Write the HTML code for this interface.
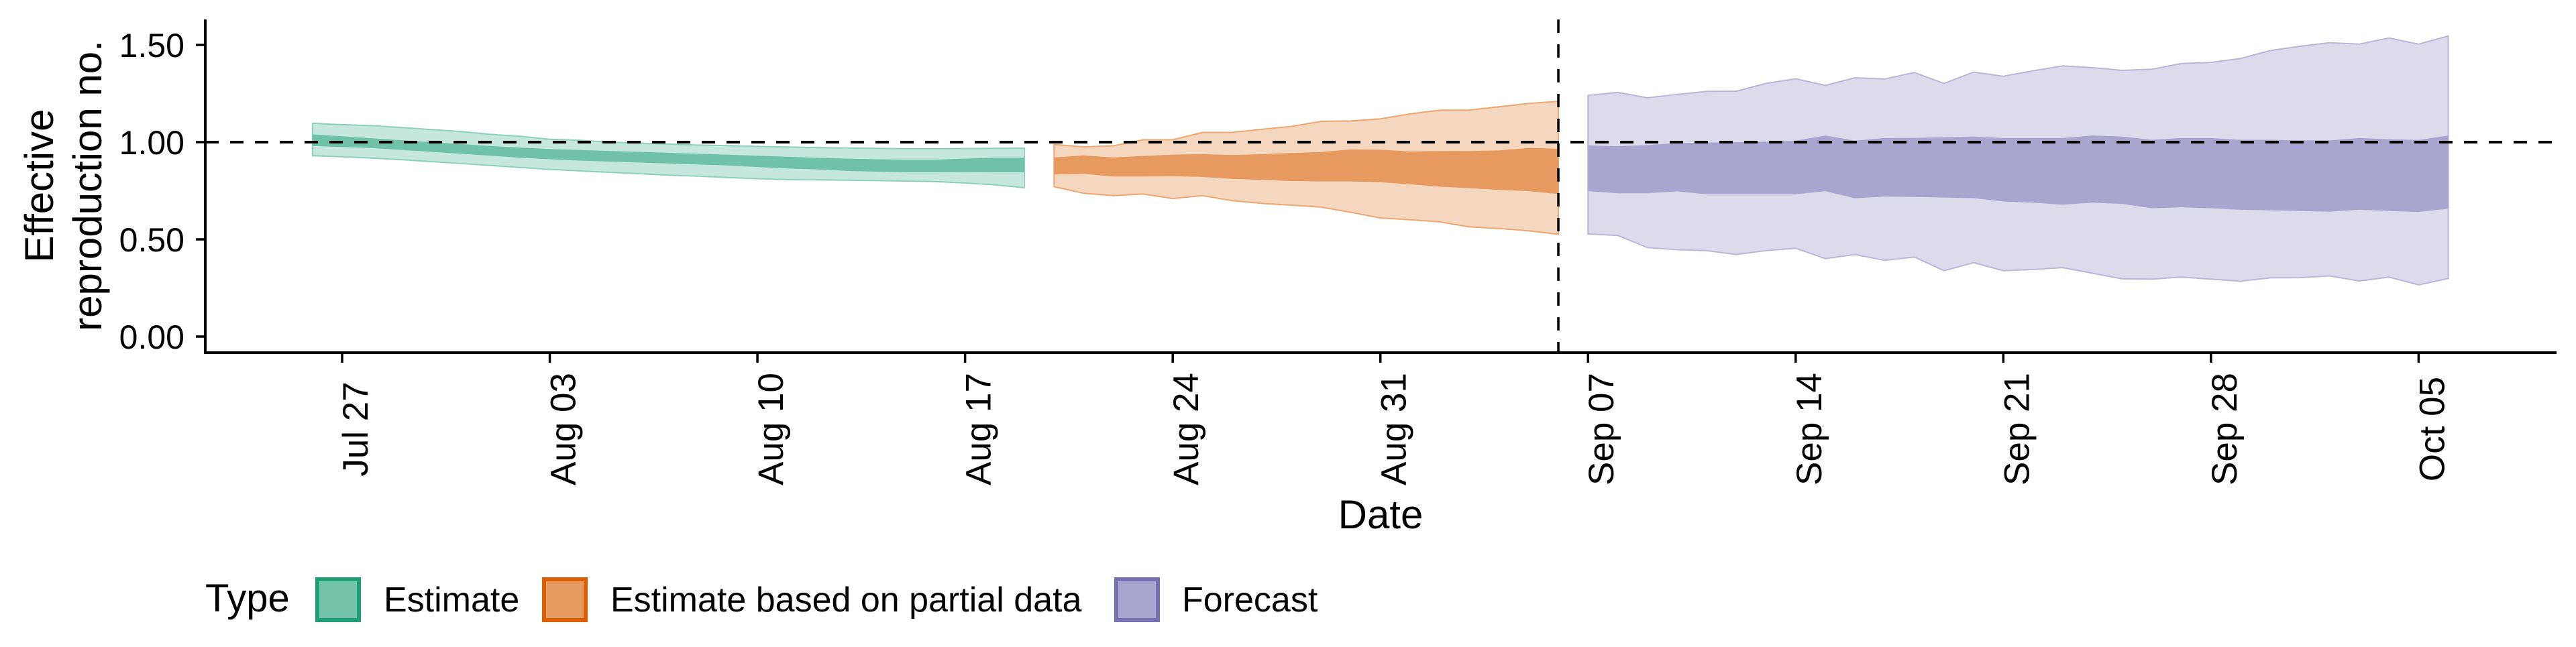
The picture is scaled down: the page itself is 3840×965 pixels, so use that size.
<!DOCTYPE html>
<html><head><meta charset="utf-8"><style>
html,body{margin:0;padding:0;background:#fff;}
svg text{font-family:"Liberation Sans",sans-serif;fill:#000;}
</style></head><body>
<svg id="chart" xmlns="http://www.w3.org/2000/svg" width="3840" height="960" viewBox="0 0 3840 960">
<g id="bands"></g>
<g id="axes"></g>
</svg>
<script>
// day offsets relative to Jul 27
const estStart = -1;
const estUpper90 = [1.097,1.09,1.085,1.075,1.065,1.055,1.04,1.03,1.015,1.01,1.0,0.995,0.99,0.985,0.982,0.978,0.975,0.972,0.97,0.968,0.966,0.966,0.967,0.968,0.969];
const estLower90 = [0.93,0.925,0.918,0.91,0.9,0.89,0.88,0.87,0.86,0.852,0.845,0.838,0.83,0.825,0.818,0.812,0.808,0.806,0.804,0.802,0.80,0.797,0.79,0.78,0.766];
const estUpper50 = [1.04,1.03,1.02,1.01,1.0,0.99,0.98,0.972,0.965,0.96,0.955,0.95,0.945,0.94,0.935,0.93,0.925,0.92,0.915,0.912,0.91,0.91,0.915,0.92,0.92];
const estLower50 = [0.98,0.975,0.97,0.96,0.95,0.94,0.93,0.92,0.912,0.905,0.9,0.895,0.89,0.885,0.88,0.872,0.865,0.86,0.852,0.848,0.845,0.845,0.846,0.845,0.845];

const partStart = 24;
const partUpper90 = [0.988,0.976,0.981,1.012,1.012,1.05,1.05,1.066,1.081,1.107,1.109,1.12,1.145,1.164,1.165,1.182,1.199,1.21];
const partLower90 = [0.771,0.737,0.725,0.733,0.71,0.725,0.699,0.685,0.676,0.666,0.639,0.61,0.601,0.59,0.564,0.556,0.544,0.526];
const partUpper50 = [0.921,0.932,0.921,0.929,0.936,0.938,0.934,0.938,0.944,0.949,0.963,0.961,0.952,0.954,0.954,0.958,0.970,0.966];
const partLower50 = [0.834,0.837,0.823,0.823,0.825,0.821,0.811,0.806,0.8,0.798,0.798,0.794,0.783,0.771,0.763,0.754,0.748,0.733];

const fcStart = 42;
const fcUpper90 = [1.240,1.256,1.228,1.245,1.261,1.262,1.302,1.326,1.292,1.331,1.325,1.358,1.302,1.360,1.339,1.367,1.392,1.383,1.369,1.375,1.404,1.410,1.430,1.471,1.493,1.511,1.504,1.536,1.504,1.546];
const fcLower90 = [0.528,0.520,0.458,0.447,0.442,0.422,0.442,0.454,0.401,0.422,0.392,0.409,0.339,0.380,0.339,0.345,0.355,0.326,0.297,0.295,0.306,0.295,0.285,0.302,0.303,0.312,0.286,0.306,0.266,0.299];
const fcUpper50 = [0.983,0.979,0.985,0.995,0.998,0.999,1.002,1.008,1.034,1.008,1.021,1.022,1.025,1.029,1.021,1.021,1.021,1.034,1.029,1.012,1.021,1.021,1.012,1.012,1.009,1.009,1.021,1.015,1.011,1.034];
const fcLower50 = [0.748,0.737,0.737,0.747,0.732,0.732,0.732,0.732,0.748,0.711,0.720,0.718,0.715,0.712,0.695,0.689,0.678,0.689,0.682,0.660,0.665,0.660,0.652,0.649,0.646,0.642,0.652,0.646,0.641,0.658];

const yTicks = [0, 0.5, 1.0, 1.5];
const yTickLabels = ["0.00","0.50","1.00","1.50"];
const xTickDays = [0,7,14,21,28,35,42,49,56,63,70];
const xTickLabels = ["Jul 27","Aug 03","Aug 10","Aug 17","Aug 24","Aug 31","Sep 07","Sep 14","Sep 21","Sep 28","Oct 05"];
const refLineValue = 1.0;
const forecastDay = 41;

const NS = "http://www.w3.org/2000/svg";
const L = 306, R = 3811, T = 29, B = 526;
function xs(d){ return 510 + d * 44.22; }
function ys(v){ return 502 - v * 290; }
function mk(tag, attrs, parent){ const e = document.createElementNS(NS, tag); for (const k in attrs) e.setAttribute(k, attrs[k]); parent.appendChild(e); return e; }
const bands = document.getElementById('bands');
const axes = document.getElementById('axes');

function ribbon(start, up, lo, fill, stroke, name){
  let pts = [];
  for (let i = 0; i < up.length; i++) pts.push(xs(start + i).toFixed(1) + "," + ys(up[i]).toFixed(1));
  for (let i = lo.length - 1; i >= 0; i--) pts.push(xs(start + i).toFixed(1) + "," + ys(lo[i]).toFixed(1));
  const p = mk('polygon', {points: pts.join(' '), fill: fill, stroke: stroke, 'stroke-width': stroke === 'none' ? 0 : 2}, bands);
  
  
}
ribbon(estStart, estUpper90, estLower90, '#c6e7dd', '#8fd0bc', 'estimate-90-band');
ribbon(estStart, estUpper50, estLower50, '#6fc1aa', 'none', 'estimate-50-band');
ribbon(partStart, partUpper90, partLower90, '#f5d7bf', '#eda772', 'partial-90-band');
ribbon(partStart, partUpper50, partLower50, '#e69a5f', 'none', 'partial-50-band');
ribbon(fcStart, fcUpper90, fcLower90, '#dcdbec', '#b9b6da', 'forecast-90-band');
ribbon(fcStart, fcUpper50, fcLower50, '#a8a5cf', 'none', 'forecast-50-band');

// reference lines
let h = mk('line', {x1: L, x2: R, y1: ys(refLineValue), y2: ys(refLineValue), stroke: '#000', 'stroke-width': 4, 'stroke-dasharray': '20 17'}, axes);


let v = mk('line', {x1: xs(forecastDay), x2: xs(forecastDay), y1: T, y2: B, stroke: '#000', 'stroke-width': 3.5, 'stroke-dasharray': '20 17'}, axes);



// axes lines
let ya = mk('line', {x1: L, x2: L, y1: T, y2: B + 2, stroke: '#000', 'stroke-width': 4}, axes);


let xa = mk('line', {x1: L - 2, x2: R, y1: B, y2: B, stroke: '#000', 'stroke-width': 4}, axes);



yTicks.forEach((t, i) => {
  const tk = mk('line', {x1: L - 14, x2: L, y1: ys(t), y2: ys(t), stroke: '#000', 'stroke-width': 3.5}, axes);
  
  
  const tx = mk('text', {x: 275, y: ys(t) + 18, 'text-anchor': 'end', 'font-size': 50}, axes);
  tx.textContent = yTickLabels[i];
  
  
});
xTickDays.forEach((d, i) => {
  const x = xs(d);
  const tk = mk('line', {x1: x, x2: x, y1: B, y2: B + 15, stroke: '#000', 'stroke-width': 3.5}, axes);
  
  
  const tx = mk('text', {x: 0, y: 0, 'text-anchor': 'middle', 'font-size': 53, transform: 'translate(' + (x + 38) + ',640) rotate(-90)'}, axes);
  tx.textContent = xTickLabels[i];
  
  
});
</script>
<svg style="position:absolute;left:0;top:0" width="3840" height="960">
<text x="2058" y="788" text-anchor="middle" font-size="60">Date</text>
<g transform="translate(0,277) rotate(-90)">
<text x="0" y="79" text-anchor="middle" font-size="60">Effective</text>
<text x="0" y="151" text-anchor="middle" font-size="60">reproduction no.</text>
</g>
<g>
<text x="306" y="912" font-size="58">Type</text>
<rect x="473" y="864" width="62" height="61" fill="#73c4ab" stroke="#1f9e77" stroke-width="6"/>
<text x="572" y="912" font-size="52">Estimate</text>
<rect x="811" y="864" width="62" height="61" fill="#e69b60" stroke="#d95f02" stroke-width="6"/>
<text x="910" y="912" font-size="52">Estimate based on partial data</text>
<rect x="1664" y="864" width="62" height="61" fill="#a8a5cf" stroke="#7570b3" stroke-width="6"/>
<text x="1762" y="912" font-size="52">Forecast</text>
</g>
</svg>
</body></html>
